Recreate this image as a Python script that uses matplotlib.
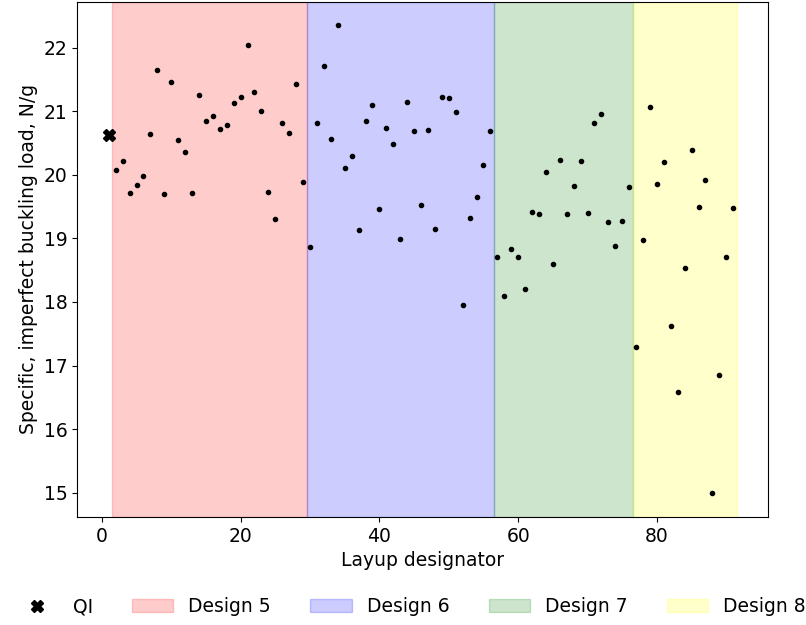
import matplotlib
matplotlib.use("Agg")
from matplotlib import pyplot as plt

# QI reference layup
qi_x = [1]
qi_y = [20.62]

layup = list(range(2, 92))
load = [
    # design 5 (2-29)
    20.07, 20.22, 19.72, 19.84, 19.98, 20.64, 21.65, 19.69, 21.46, 20.54,
    20.36, 19.72, 21.26, 20.85, 20.93, 20.72, 20.79, 21.13, 21.23, 22.04,
    21.30, 21.01, 19.73, 19.30, 20.81, 20.66, 21.43, 19.88,
    # design 6 (30-56)
    18.87, 20.82, 21.71, 20.56, 22.35, 20.10, 20.30, 19.13, 20.84, 21.09,
    19.46, 20.73, 20.48, 18.99, 21.14, 20.69, 19.53, 20.70, 19.15, 21.22,
    21.21, 20.98, 17.96, 19.32, 19.65, 20.16, 20.69,
    # design 7 (57-76)
    18.71, 18.10, 18.84, 18.70, 18.20, 19.41, 19.39, 20.04, 18.60, 20.23,
    19.38, 19.82, 20.21, 19.40, 20.82, 20.95, 19.26, 18.88, 19.28, 19.80,
    # design 8 (77-91)
    17.29, 18.98, 21.07, 19.86, 20.20, 17.63, 16.59, 18.54, 20.39, 19.49,
    19.91, 14.99, 16.86, 18.71, 19.48,
]

designs = ["Design 5", "Design 6", "Design 7", "Design 8"]
bounds = [1.5, 29.5, 56.5, 76.5, 91.5]
colors = ["red", "blue", "green", "yellow"]

fs = 13.5

fig = plt.figure(figsize=(8.06, 6.25), dpi=100)
ax = fig.add_axes([0.096, 0.173, 0.857, 0.824])

for i in range(len(designs)):
    ax.axvspan(bounds[i], bounds[i + 1], color=colors[i], alpha=0.2, label=designs[i])

ax.plot(layup, load, "k.", markersize=6)
ax.plot(qi_x, qi_y, "kX", markersize=8, linestyle="none", label="QI")

ax.set_xlabel("Layup designator", fontsize=fs)
ax.set_ylabel("Specific, imperfect buckling load, N/g", fontsize=fs)
ax.tick_params(labelsize=fs)

handles, labels = ax.get_legend_handles_labels()
order = [4, 0, 1, 2, 3]
fig.legend([handles[i] for i in order], [labels[i] for i in order],
           loc="center", bbox_to_anchor=(0.51, 0.029), ncol=5, frameon=False,
           fontsize=fs, columnspacing=2.1, handlelength=2.2)

fig.savefig("out.png", dpi=100)
